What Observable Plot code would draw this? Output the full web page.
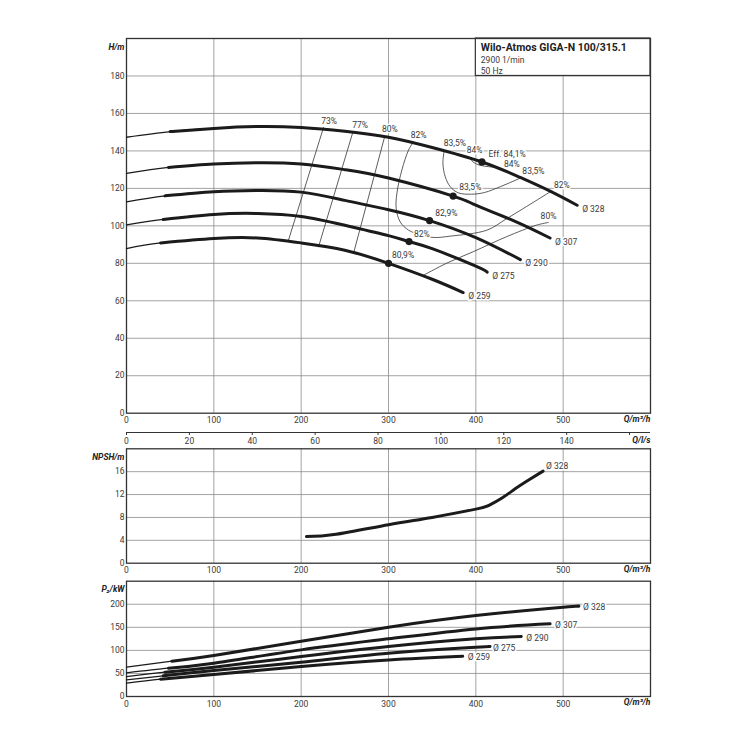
<!DOCTYPE html>
<html>
<head>
<meta charset="utf-8">
<script src="https://cdn.jsdelivr.net/npm/d3@7"></script>
<script src="https://cdn.jsdelivr.net/npm/@observablehq/plot@0.6"></script>
<style>
  body { margin: 0; background: #fff; }
  #chart { position: relative; width: 750px; height: 750px; background: #fff; overflow: hidden; }
  #chart svg { position: absolute; left: 0; top: 0; }
</style>
</head>
<body>
<div id="chart"></div>
<script>
// ---------- DATA ----------
const diameters = ["328", "307", "290", "275", "259"];

// Head curves H(Q): [Q m³/h, H m]  (first segment drawn thin)
const head328 = [[0,147.3],[50,150.3],[100,152],[150,153],[200,152.5],[250,150.5],[300,147.3],[350,141.8],[407,134.1],[450,126],[485,118.5],[516,111]];
const head307 = [[0,128],[48,131.2],[100,133],[150,133.7],[200,133],[250,130],[300,125.5],[374,115.9],[400,111],[443,102.8],[485,93.5]];
const head290 = [[0,112.8],[44,116],[100,118.2],[150,118.9],[200,118],[250,113.6],[300,108.6],[347,102.8],[400,93.7],[451,82]];
const head275 = [[0,100.5],[42,103.4],[100,106.1],[150,106.6],[200,105],[250,100.3],[300,94.8],[323.5,91.6],[350,87.8],[400,78.5],[413,75.3]];
const head259 = [[0,87.9],[39,90.9],[100,93.2],[150,93.5],[200,90.9],[250,87],[300,80],[350,71.5],[385.5,64.4]];

// Best-efficiency points on each curve
const bepQ = [407, 374, 347, 323.5, 300];
const bepH = [134.1, 115.9, 102.8, 91.6, 80];

// Iso-efficiency lines [Q, H]
const eff73 = [[225.6,152.5],[185.5,92.4]];
const eff77 = [[259.3,150.2],[219.9,88.8]];
const eff80a = [[295.6,147.6],[260,85.4]];
const eff82 = [[328,144.4],[323,140.5],[315.3,129.8],[309.6,117.3],[308.8,109.3],[313.4,102.1],[323,97.7],[338.2,95],[352.3,93.8],[370.7,94.5],[412.7,97.7],[435.2,103.8],[487,118.7]];
const eff835 = [[363.8,140.2],[362.3,133.4],[365,126.2],[370.7,120.9],[380,117.6],[395,116.9],[410,117.8],[428,120.9],[451,125.5]];
const eff84 = [[391.6,136.9],[397.4,133.9],[405,132.3],[414.5,131.6],[424.1,131.2]];
const eff80b = [[339.6,73.5],[366.3,80],[397,86.2],[435.2,94.2],[469.6,100.4],[483,101.8]];

// Efficiency labels [text, Q, H]
const effLabels = [
  ["73%",232,156],["77%",267.5,153.8],["80%",301.5,151.5],["82%",334.5,148.6],
  ["83,5%",376,144],["84%",398.5,140.5],["84%",441.3,133],["83,5%",466,129.4],
  ["83,5%",393.6,120.5],["82%",498.5,121.6],["82,9%",366.3,106.7],["80%",483.2,105.2],
  ["82%",338.2,95.4],["80,9%",316.6,84.1]
];
const bepLabel = ["Eff. 84,1%", 414.5, 138.2];

// NPSH of Ø 328 [Q, NPSH m]
const npsh328 = [[206,4.65],[240,5.05],[300,6.73],[350,8.0],[400,9.45],[415,10.1],[430,11.4],[445,13.0],[460,14.5],[477,16.1]];

// Power P2 [Q, kW]
const power328 = [[0,63.5],[52,76.5],[100,88.8],[200,119.9],[300,150.2],[400,175.5],[500,193.6],[517,195.7]];
const power307 = [[0,51.3],[48,61.5],[100,72.2],[200,101.1],[300,125],[400,146.6],[485,157.5]];
const power290 = [[0,43.3],[44,52.7],[100,63.6],[200,86.7],[300,108.3],[400,125],[452,130]];
const power275 = [[0,36.1],[42,44.8],[100,56.3],[200,74.4],[300,93.9],[400,106.9],[414,108.3]];
const power259 = [[0,28.9],[39,37.5],[100,47.7],[200,65],[300,79.4],[385,87.4]];

// Axes
const qTicks = [0,100,200,300,400,500];
const qDomain = [0,600];
const lsTicks = [0,20,40,60,80,100,120,140,160];
const hTicks = [0,20,40,60,80,100,120,140,160,180];
const hDomain = [0,200];
const npshTicks = [0,4,8,12,16];
const npshDomain = [0,20];
const p2Ticks = [0,50,100,150,200];
const p2Domain = [0,250];

// Title block
const titleLines = ["Wilo-Atmos GIGA-N 100/315.1", "2900 1/min", "50 Hz"];
const titleBox = [{x1: 400, x2: 600, y1: 180, y2: 200}];

// ---------- BUILD ----------
const headSeries = [head328, head307, head290, head275, head259];
const powerSeries = [power328, power307, power290, power275, power259];
const rowsOf = (series, sliceFrom = 0) => diameters.flatMap((d, i) => series[i].slice(sliceFrom).map(([q, v]) => ({d, q, v})));
const headAll = rowsOf(headSeries), headThick = rowsOf(headSeries, 1);
const powerAll = rowsOf(powerSeries), powerThick = rowsOf(powerSeries, 1);
const contours = [eff73, eff77, eff80a, eff82, eff835, eff84, eff80b]
  .flatMap((c, i) => c.map(([q, v]) => ({id: i, q, v})));
const bep = bepQ.map((q, i) => ({q, v: bepH[i]}));
const effLab = effLabels.map(([t, q, v]) => ({t, q, v}));
const npshRows = npsh328.map(([q, v]) => ({d: "328", q, v}));

const FONT = "Roboto, 'DejaVu Sans', sans-serif";
const INK = "#1b1b1b", TXT = "#3a3a3a", GRID = "#8c8c8c";
const W = 750, H = 750, ML = 126, MR = 100;

function panel({top, bottom, xDomain = qDomain, yDomain, yAxis = true, marks}) {
  return Plot.plot({
    width: W, height: H,
    marginLeft: ML, marginRight: MR, marginTop: top, marginBottom: H - bottom,
    x: {domain: xDomain, label: null}, y: {domain: yDomain, label: null, ...(yAxis ? {} : {axis: null})},
    style: {background: "none", fontFamily: FONT, fontSize: "8.5px", color: TXT},
    marks
  });
}
const gridStyle = {stroke: GRID, strokeOpacity: 1, strokeWidth: 0.8};
const axisTxt = {fontSize: 8.5, fill: TXT, label: null};
const boldItalic = {fontWeight: "bold", fontStyle: "italic", fontSize: 8.5, fill: "#222"};
const yTitle = (t) => Plot.text([t], {text: d => d, frameAnchor: "top-left", textAnchor: "end", dx: -2, dy: 5, ...boldItalic});
const xTitle = (t) => Plot.text([t], {text: d => d, frameAnchor: "bottom-right", textAnchor: "end", dy: 8.5, ...boldItalic});
const halo = {stroke: "white", strokeWidth: 3, fill: TXT, fontSize: 8.5};

// Top: head curves
const pHead = panel({
  top: 38, bottom: 412.7, yDomain: hDomain,
  marks: [
    Plot.gridX(qTicks.slice(1), gridStyle),
    Plot.gridY(hTicks.slice(1), gridStyle),
    Plot.rect(titleBox, {x1: "x1", x2: "x2", y1: "y1", y2: "y2", fill: "white", stroke: "#333", strokeWidth: 1.2}),
    Plot.frame({stroke: "#333", strokeWidth: 1.3}),
    Plot.axisX(qTicks, {tickSize: 0, tickPadding: 4, ...axisTxt}),
    Plot.axisY(hTicks, {tickSize: 0, tickPadding: 2, ...axisTxt}),
    yTitle("H/m"),
    xTitle("Q/m³/h"),
    Plot.text(titleBox, {x: "x1", y: "y2", text: () => titleLines[0], textAnchor: "start", dx: 5, dy: 9.5, fontWeight: "bold", fontSize: 10.5, fill: "#222"}),
    Plot.text(titleBox, {x: "x1", y: "y2", text: () => titleLines[1], textAnchor: "start", dx: 5, dy: 21.3, fontSize: 8.5, fill: TXT}),
    Plot.text(titleBox, {x: "x1", y: "y2", text: () => titleLines[2], textAnchor: "start", dx: 5, dy: 32.7, fontSize: 8.5, fill: TXT}),
    Plot.line(contours, {x: "q", y: "v", z: "id", stroke: "#333", strokeWidth: 0.8, curve: "catmull-rom"}),
    Plot.line(headAll, {x: "q", y: "v", z: "d", stroke: INK, strokeWidth: 1.3, curve: "natural"}),
    Plot.line(headThick, {x: "q", y: "v", z: "d", stroke: INK, strokeWidth: 3, curve: "natural"}),
    Plot.dot(bep, {x: "q", y: "v", r: 3.6, fill: INK}),
    Plot.text(effLab, {x: "q", y: "v", text: "t", ...halo}),
    Plot.text([bepLabel], {x: d => d[1], y: d => d[2], text: d => d[0], textAnchor: "start", ...halo}),
    Plot.text(headAll, Plot.selectLast({x: "q", y: "v", z: "d", text: d => "Ø " + d.d, textAnchor: "start", dx: 5, dy: 4, ...halo}))
  ]
});

// Secondary flow axis in l/s
const pLs = panel({
  top: 38, bottom: 432, xDomain: [0, qDomain[1] / 3.6], yDomain: [0, 1], yAxis: false,
  marks: [
    Plot.ruleY([0], {stroke: "#333", strokeWidth: 1.2}),
    Plot.axisX(lsTicks, {tickSize: 3, tickPadding: 2, stroke: "#333", tickFormat: d => d === 160 ? "" : d, ...axisTxt}),
    Plot.text(["Q/l/s"], {text: d => d, frameAnchor: "bottom-right", textAnchor: "end", dy: 10, ...boldItalic})
  ]
});

// NPSH
const pNpsh = panel({
  top: 448.3, bottom: 562.7, yDomain: npshDomain,
  marks: [
    Plot.gridX(qTicks.slice(1), gridStyle),
    Plot.gridY(npshTicks.slice(1), gridStyle),
    Plot.frame({stroke: "#333", strokeWidth: 1.3}),
    Plot.axisX(qTicks, {tickSize: 0, tickPadding: 4, ...axisTxt}),
    Plot.axisY(npshTicks, {tickSize: 0, tickPadding: 2, ...axisTxt}),
    yTitle("NPSH/m"),
    xTitle("Q/m³/h"),
    Plot.line(npshRows, {x: "q", y: "v", stroke: INK, strokeWidth: 3, curve: "natural"}),
    Plot.text(npshRows, Plot.selectLast({x: "q", y: "v", text: d => "Ø " + d.d, textAnchor: "start", dx: 3, dy: -5, ...halo}))
  ]
});

// Power P2
const pPower = panel({
  top: 580.7, bottom: 696, yDomain: p2Domain,
  marks: [
    Plot.gridX(qTicks.slice(1), gridStyle),
    Plot.gridY(p2Ticks.slice(1), gridStyle),
    Plot.frame({stroke: "#333", strokeWidth: 1.3}),
    Plot.axisX(qTicks, {tickSize: 0, tickPadding: 4, ...axisTxt}),
    Plot.axisY(p2Ticks, {tickSize: 0, tickPadding: 2, ...axisTxt}),
    yTitle("P₂/kW"),
    xTitle("Q/m³/h"),
    Plot.line(powerAll, {x: "q", y: "v", z: "d", stroke: INK, strokeWidth: 1.3, curve: "natural"}),
    Plot.line(powerThick, {x: "q", y: "v", z: "d", stroke: INK, strokeWidth: 3, curve: "natural"}),
    Plot.text(powerAll, Plot.selectLast({x: "q", y: "v", z: "d", text: d => "Ø " + d.d, textAnchor: "start", dx: 5, dy: 1.5, ...halo}))
  ]
});

const host = document.getElementById("chart");
[pHead, pLs, pNpsh, pPower].forEach(p => host.appendChild(p));
</script>
</body>
</html>
